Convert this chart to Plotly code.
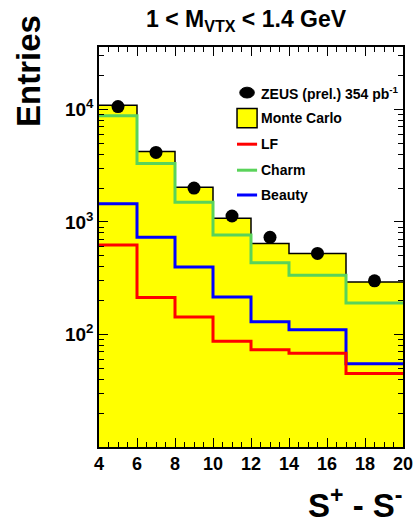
import plotly.graph_objects as go

# Bin edges in S+ - S- and per-bin contents
edges = [4, 6, 8, 10, 12, 14, 17, 20]
centers = [5, 7, 9, 11, 13, 15.5, 18.5]
widths = [2, 2, 2, 2, 2, 3, 3]

data_zeus = [10600, 4150, 2000, 1130, 730, 525, 300]
mc_total = [10900, 4240, 2040, 1080, 645, 525, 293]
lf = [623, 213, 143, 87, 73, 68, 45]
charm = [8800, 3300, 1500, 766, 433, 336, 190]
beauty = [1450, 730, 398, 215, 130, 110, 55]

FONT = "Liberation Sans"
YELLOW = "#ffff00"
RED = "#ff0000"
GREEN = "#5ad35a"
BLUE = "#0000ff"


def step_y(vals):
    return list(vals) + [vals[-1]]


fig = go.Figure()

# Monte Carlo total: yellow filled histogram with black step outline
fig.add_trace(go.Bar(x=centers, y=mc_total, width=widths,
                     marker=dict(color=YELLOW, line=dict(width=0)),
                     showlegend=False))
fig.add_trace(go.Scatter(x=edges, y=step_y(mc_total), mode="lines",
                         line=dict(color="black", width=1.5, shape="hv"),
                         showlegend=False))

for vals, col in [(charm, GREEN), (beauty, BLUE), (lf, RED)]:
    fig.add_trace(go.Scatter(x=edges, y=step_y(vals), mode="lines",
                             line=dict(color=col, width=3, shape="hv"),
                             showlegend=False))

fig.add_trace(go.Scatter(x=centers, y=data_zeus, mode="markers",
                         marker=dict(color="black", size=13, symbol="circle"),
                         showlegend=False))

# Legend drawn in paper coordinates
leg_x = 0.487   # symbol centre
txt_x = 0.527
rows = [0.886, 0.822, 0.757, 0.692, 0.630]
labels = ["ZEUS (prel.) 354 pb<sup>-1</sup>", "Monte Carlo", "LF", "Charm", "Beauty"]
shapes = []
# circle marker
shapes.append(dict(type="circle", xref="paper", yref="paper",
                   x0=leg_x - 0.024, x1=leg_x + 0.024,
                   y0=rows[0] - 0.0135, y1=rows[0] + 0.0135,
                   fillcolor="black", line=dict(color="black", width=1)))
# Monte Carlo box
shapes.append(dict(type="rect", xref="paper", yref="paper",
                   x0=leg_x - 0.033, x1=leg_x + 0.033,
                   y0=rows[1] - 0.024, y1=rows[1] + 0.024,
                   fillcolor=YELLOW, line=dict(color="black", width=1.5)))
for r, col in zip(rows[2:], [RED, GREEN, BLUE]):
    shapes.append(dict(type="line", xref="paper", yref="paper",
                       x0=leg_x - 0.033, x1=leg_x + 0.033, y0=r, y1=r,
                       line=dict(color=col, width=3)))

annotations = []
for r, t in zip(rows, labels):
    annotations.append(dict(x=txt_x, y=r, xref="paper", yref="paper",
                            text="<b>%s</b>" % t, showarrow=False,
                            xanchor="left", yanchor="middle",
                            font=dict(family=FONT, size=14, color="black")))

# Title and axis titles
annotations.append(dict(x=0.485, y=1.0, xref="paper", yref="paper",
                        yshift=27,
                        text="<b>1 < M<sub>VTX</sub> < 1.4 GeV</b>", showarrow=False,
                        xanchor="center", yanchor="middle",
                        font=dict(family=FONT, size=23, color="black")))
annotations.append(dict(x=1.0, y=0.0, xref="paper", yref="paper",
                        xshift=2, yshift=-56,
                        text="<b>S<sup>+</sup> - S<sup>-</sup></b>", showarrow=False,
                        xanchor="right", yanchor="middle",
                        font=dict(family=FONT, size=33, color="black")))
annotations.append(dict(x=0.0, y=1.0, xref="paper", yref="paper",
                        xshift=-71, yshift=-24,
                        text="<b>Entries</b>", showarrow=False, textangle=-90,
                        xanchor="center", yanchor="middle",
                        font=dict(family=FONT, size=33, color="black")))

fig.update_layout(
    width=415, height=521, autosize=False,
    margin=dict(l=99, r=12, t=47, b=74),
    paper_bgcolor="white", plot_bgcolor="white",
    bargap=0,
    shapes=shapes, annotations=annotations,
    showlegend=False,
    font=dict(family=FONT, color="black"),
)

fig.update_xaxes(
    automargin=False,
    range=[4, 20], tickvals=[4, 6, 8, 10, 12, 14, 16, 18, 20],
    ticks="inside", ticklen=9, tickwidth=1, tickcolor="black",
    showline=True, linecolor="black", linewidth=1.5, mirror="ticks",
    showgrid=False, zeroline=False,
    tickfont=dict(family=FONT, size=18, weight="bold"),
    minor=dict(dtick=0.5, tick0=4, ticks="inside", ticklen=5, tickcolor="black"),
)

fig.update_yaxes(
    automargin=False,
    type="log", range=[1, 4.555],
    tickvals=[100, 1000, 10000],
    ticktext=["<b>10<sup>2</sup></b>", "<b>10<sup>3</sup></b>", "<b>10<sup>4</sup></b>"],
    ticks="inside", ticklen=9, tickwidth=1, tickcolor="black",
    showline=True, linecolor="black", linewidth=1.5, mirror="ticks",
    showgrid=False, zeroline=False,
    tickfont=dict(family=FONT, size=19),
    minor=dict(tickvals=[m * 10 ** k for k in (1, 2, 3, 4) for m in range(2, 10)],
               ticks="inside", ticklen=5, tickcolor="black"),
)

fig.write_html("out.html")
